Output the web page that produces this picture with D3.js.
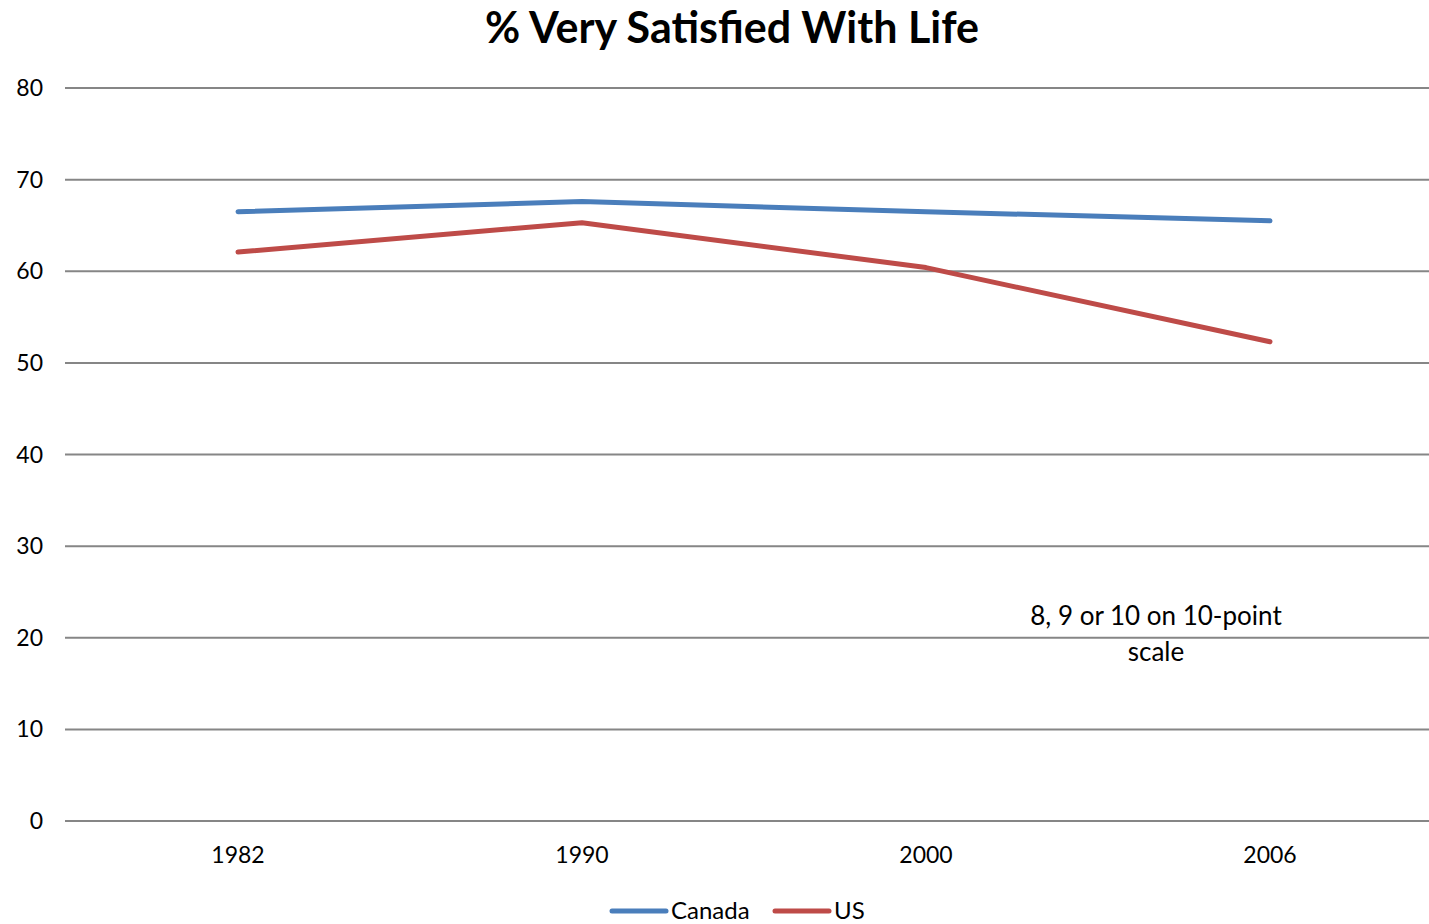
<!DOCTYPE html>
<html>
<head>
<meta charset="utf-8">
<script src="https://cdn.jsdelivr.net/npm/d3@7"></script>
<style>
  body { margin: 0; background: #fff; }
  svg { display: block; font-family: Lato, "Open Sans", sans-serif; }
</style>
</head>
<body>
<svg id="svg" width="1429" height="924"></svg>
<script>
// data
const years = ['1982', '1990', '2000', '2006'];
const canada = [66.5, 67.6, 66.5, 65.5];
const us = [62.1, 65.3, 60.4, 52.3];
const yTicks = [0, 10, 20, 30, 40, 50, 60, 70, 80];

const svg = d3.select('#svg');
const W = 1429;

const x = d3.scaleBand().domain(years).range([66, 1442]);
const y = d3.scaleLinear().domain([0, 80]).range([821, 88]);
const cx = d => x(d) + x.bandwidth() / 2;

// gridlines
svg.append('g')
  .selectAll('line')
  .data(yTicks)
  .enter().append('line')
  .attr('x1', 65).attr('x2', W)
  .attr('y1', d => y(d)).attr('y2', d => y(d))
  .attr('stroke', '#868686')
  .attr('stroke-width', 2);

// y labels
svg.append('g')
  .selectAll('text')
  .data(yTicks)
  .enter().append('text')
  .attr('x', 43).attr('y', d => y(d))
  .attr('dy', '0.35em')
  .attr('text-anchor', 'end')
  .attr('font-size', 23)
  .text(d => d);

// x labels
svg.append('g')
  .selectAll('text')
  .data(years)
  .enter().append('text')
  .attr('x', d => cx(d)).attr('y', 855)
  .attr('dy', '0.35em')
  .attr('text-anchor', 'middle')
  .attr('font-size', 23)
  .text(d => d);

// lines
const series = [
  {name: 'Canada', values: canada, color: '#4a7ebb'},
  {name: 'US', values: us, color: '#be4b48'}
];
const line = d3.line()
  .x((d, i) => cx(years[i]))
  .y(d => y(d));

svg.append('g')
  .selectAll('path')
  .data(series)
  .enter().append('path')
  .attr('d', d => line(d.values))
  .attr('fill', 'none')
  .attr('stroke', d => d.color)
  .attr('stroke-width', 5)
  .attr('stroke-linecap', 'round')
  .attr('stroke-linejoin', 'round');

// title
svg.append('text')
  .attr('x', 732).attr('y', 28)
  .attr('dy', '0.35em')
  .attr('text-anchor', 'middle')
  .attr('font-size', 43)
  .attr('font-weight', 'bold')
  .text('% Very Satisfied With Life');

// annotation
const note = svg.append('text')
  .attr('text-anchor', 'middle')
  .attr('font-size', 26);
note.append('tspan').attr('x', 1156).attr('y', 625).text('8, 9 or 10 on 10-point');
note.append('tspan').attr('x', 1156).attr('y', 661).text('scale');

// legend
const legend = svg.append('g');
const lx = [612, 775];
series.forEach((s, i) => {
  legend.append('line')
    .attr('x1', lx[i]).attr('x2', lx[i] + 54)
    .attr('y1', 911).attr('y2', 911)
    .attr('stroke', s.color)
    .attr('stroke-width', 5)
    .attr('stroke-linecap', 'round');
  legend.append('text')
    .attr('x', lx[i] + 59).attr('y', 911)
    .attr('dy', '0.35em')
    .attr('font-size', 24)
    .text(s.name);
});
</script>
</body>
</html>
